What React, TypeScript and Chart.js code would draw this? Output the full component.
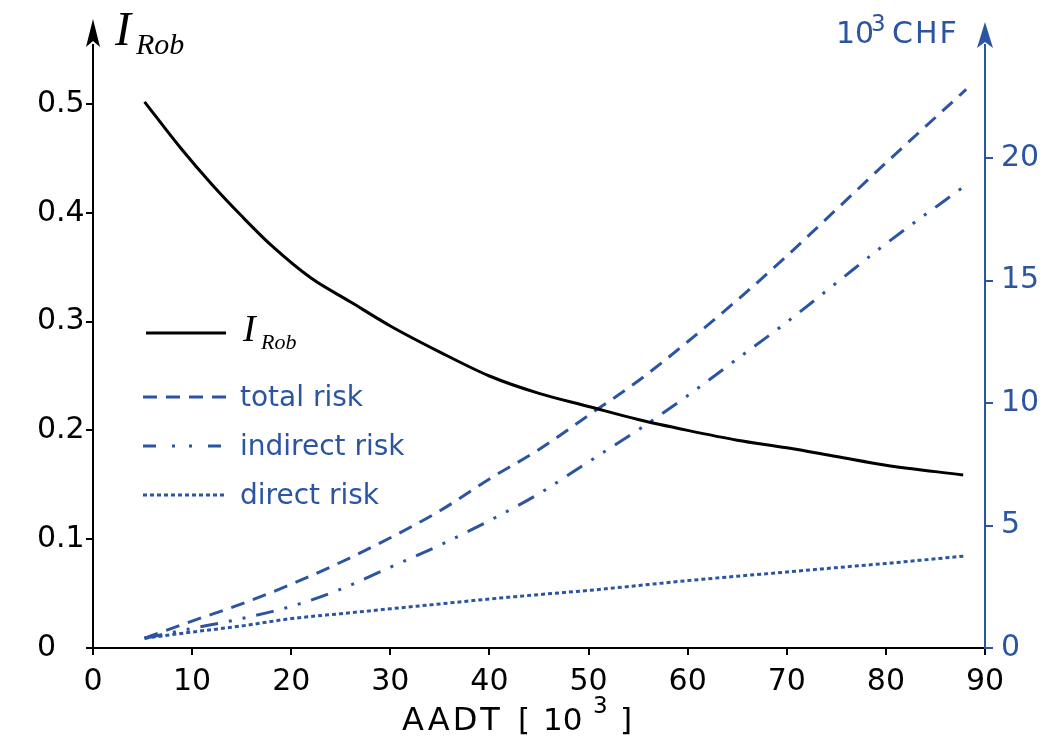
import React, { useEffect, useRef } from 'react';
import { Chart, registerables } from 'chart.js';

Chart.register(...registerables);

const BLUE = '#2b55a3';
const FONT = '"DejaVu Sans", Verdana, sans-serif';
const SERIF = '"Liberation Serif", "Times New Roman", serif';

// AADT [10^3] for the robustness index curve
const robAadt = [5.2, 8.8, 12, 15, 18, 22, 26, 30, 35, 40, 45, 50, 55, 60, 65, 70, 75, 80, 87.8];
// I_Rob (left axis)
const iRob = [0.502, 0.46, 0.426, 0.397, 0.37, 0.34, 0.318, 0.296, 0.272, 0.25, 0.234, 0.222, 0.21, 0.2, 0.191, 0.184, 0.176, 0.168, 0.159];

// AADT [10^3] for the risk curves
const riskAadt = [5.2, 10, 15, 20, 25, 30, 35, 40, 45, 50, 55, 60, 65, 70, 75, 80, 88.1];
// risks in 10^3 CHF (right axis)
const totalRisk = [0.4, 1.1, 1.8, 2.6, 3.5, 4.5, 5.6, 6.9, 8.1, 9.5, 10.9, 12.5, 14.2, 16.0, 17.9, 19.8, 22.8];
const indirectRisk = [0.4, 0.8, 1.2, 1.7, 2.4, 3.3, 4.2, 5.2, 6.3, 7.6, 8.9, 10.3, 11.8, 13.3, 14.9, 16.5, 18.9];
const directRisk = [0.4, 0.65, 0.9, 1.2, 1.4, 1.6, 1.8, 2.0, 2.18, 2.35, 2.55, 2.75, 2.93, 3.1, 3.28, 3.45, 3.76];

const legendLabels = ['total risk', 'indirect risk', 'direct risk'];
const xTitle = ['AADT', '[', '10', '3', ']'];
const rightTitle = ['10', '3', 'CHF'];

const dashTotal = [14, 9];
const dashIndirect = [18, 11, 3, 11, 3, 11];
const dashDirect = [4, 3];

const pts = (xs: number[], ys: number[]) => xs.map((x, i) => ({ x, y: ys[i] }));

const decorPlugin = {
  id: 'decor',
  afterDraw(chart: any) {
    const { ctx, chartArea } = chart;
    const L = chartArea.left;
    const R = chartArea.right;
    const T = chartArea.top;
    const B = chartArea.bottom;
    ctx.save();
    // left arrow
    ctx.fillStyle = '#000';
    ctx.beginPath();
    ctx.moveTo(L, 19);
    ctx.lineTo(L - 7, T + 2);
    ctx.lineTo(L, T - 4);
    ctx.lineTo(L + 7, T + 2);
    ctx.closePath();
    ctx.fill();
    // right arrow
    ctx.fillStyle = BLUE;
    ctx.beginPath();
    ctx.moveTo(R, 22);
    ctx.lineTo(R - 8, T + 3);
    ctx.lineTo(R, T - 3);
    ctx.lineTo(R + 8, T + 3);
    ctx.closePath();
    ctx.fill();
    // x axis extension to the left
    ctx.strokeStyle = '#000';
    ctx.lineWidth = 2;
    ctx.beginPath();
    ctx.moveTo(L - 7, B);
    ctx.lineTo(L, B);
    ctx.stroke();

    // left title I_Rob
    ctx.fillStyle = '#000';
    ctx.textBaseline = 'alphabetic';
    ctx.textAlign = 'left';
    ctx.font = `italic 48px ${SERIF}`;
    ctx.fillText('I', 115, 45);
    ctx.font = `italic 30px ${SERIF}`;
    ctx.fillText('Rob', 136, 54);

    // right title
    ctx.fillStyle = BLUE;
    ctx.font = `30px ${FONT}`;
    ctx.fillText(rightTitle[0], 836, 43);
    ctx.font = `23px ${FONT}`;
    ctx.fillText(rightTitle[1], 871, 31);
    ctx.font = `30px ${FONT}`;
    (ctx as any).letterSpacing = '2px';
    ctx.fillText(rightTitle[2], 892, 43);
    (ctx as any).letterSpacing = '0px';

    // x title
    ctx.fillStyle = '#000';
    ctx.font = `32px ${FONT}`;
    (ctx as any).letterSpacing = '3px';
    ctx.fillText(xTitle[0], 402, 730);
    (ctx as any).letterSpacing = '0px';
    ctx.font = `31px ${FONT}`;
    ctx.fillText(xTitle[1], 518, 730);
    ctx.fillText(xTitle[2], 543, 730);
    ctx.font = `23px ${FONT}`;
    ctx.fillText(xTitle[3], 593, 713);
    ctx.font = `31px ${FONT}`;
    ctx.fillText(xTitle[4], 620, 730);

    // legend
    const drawSample = (y: number, dash: number[], color: string, x0: number, x1: number) => {
      ctx.strokeStyle = color;
      ctx.lineWidth = 3;
      ctx.setLineDash(dash);
      ctx.beginPath();
      ctx.moveTo(x0, y);
      ctx.lineTo(x1, y);
      ctx.stroke();
      ctx.setLineDash([]);
    };
    drawSample(333, [], '#000', 146, 226);
    ctx.fillStyle = '#000';
    ctx.font = `italic 38px ${SERIF}`;
    ctx.fillText('I', 243, 341);
    ctx.font = `italic 22px ${SERIF}`;
    ctx.fillText('Rob', 261, 349);

    drawSample(397, dashTotal, BLUE, 143, 226);
    drawSample(446, [13, 16, 3, 14, 3, 16, 13], BLUE, 143, 226);
    drawSample(495, dashDirect, BLUE, 143, 224);
    ctx.fillStyle = BLUE;
    ctx.font = `28px ${FONT}`;
    ctx.fillText(legendLabels[0], 240, 406);
    ctx.fillText(legendLabels[1], 240, 455);
    ctx.fillText(legendLabels[2], 240, 504);
    ctx.restore();
  },
};

export default function App() {
  const ref = useRef<HTMLCanvasElement>(null);
  useEffect(() => {
    const canvas = ref.current;
    if (!canvas) return;
    const chart = new Chart(canvas, {
      type: 'line',
      data: {
        datasets: [
          {
            label: 'I_Rob',
            data: pts(robAadt, iRob),
            yAxisID: 'yL',
            borderColor: '#000',
            borderWidth: 3,
            pointRadius: 0,
            cubicInterpolationMode: 'monotone',
          },
          {
            label: legendLabels[0],
            data: pts(riskAadt, totalRisk),
            yAxisID: 'yR',
            borderColor: BLUE,
            borderWidth: 3,
            borderDash: dashTotal,
            pointRadius: 0,
            cubicInterpolationMode: 'monotone',
          },
          {
            label: legendLabels[1],
            data: pts(riskAadt, indirectRisk),
            yAxisID: 'yR',
            borderColor: BLUE,
            borderWidth: 3,
            borderDash: dashIndirect,
            pointRadius: 0,
            cubicInterpolationMode: 'monotone',
          },
          {
            label: legendLabels[2],
            data: pts(riskAadt, directRisk),
            yAxisID: 'yR',
            borderColor: BLUE,
            borderWidth: 3,
            borderDash: dashDirect,
            pointRadius: 0,
            cubicInterpolationMode: 'monotone',
          },
        ],
      },
      options: {
        animation: false,
        responsive: false,
        maintainAspectRatio: false,
        layout: { padding: { left: 37, top: 45, right: 0, bottom: 0 } },
        plugins: { legend: { display: false }, tooltip: { enabled: false } },
        scales: {
          x: {
            type: 'linear',
            min: 0,
            max: 90,
            afterFit: (s: any) => { s.height = 92; },
            border: { display: true, color: '#000', width: 2 },
            grid: { display: true, drawOnChartArea: false, drawTicks: true, tickLength: 7, color: '#000', lineWidth: 2 },
            ticks: { stepSize: 10, color: '#000', font: { family: FONT, size: 30 }, padding: 9, maxRotation: 0 },
          },
          yL: {
            type: 'linear',
            position: 'left',
            min: 0,
            max: 603 / 1088,
            afterFit: (s: any) => { s.width = 56; },
            border: { display: true, color: '#000', width: 2 },
            grid: { display: true, drawOnChartArea: false, drawTicks: true, tickLength: 7, color: '#000', lineWidth: 2 },
            ticks: { stepSize: 0.1, includeBounds: false, crossAlign: 'far', color: '#000', font: { family: FONT, size: 30 } },
          },
          yR: {
            type: 'linear',
            position: 'right',
            min: 0,
            max: 603 / 24.5,
            afterFit: (s: any) => { s.width = 76; },
            border: { display: true, color: BLUE, width: 2 },
            grid: { display: true, drawOnChartArea: false, drawTicks: true, tickLength: 8, color: BLUE, lineWidth: 2 },
            ticks: { stepSize: 5, includeBounds: false, padding: 8, color: BLUE, font: { family: FONT, size: 30 } },
          },
        },
      },
      plugins: [decorPlugin],
    } as any);
    return () => chart.destroy();
  }, []);
  return (
    <div style={{ position: 'fixed', left: 0, top: 0, width: 1061, height: 740, background: '#fff' }}>
      <canvas ref={ref} width={1061} height={740} style={{ width: 1061, height: 740, display: 'block' }} />
    </div>
  );
}
